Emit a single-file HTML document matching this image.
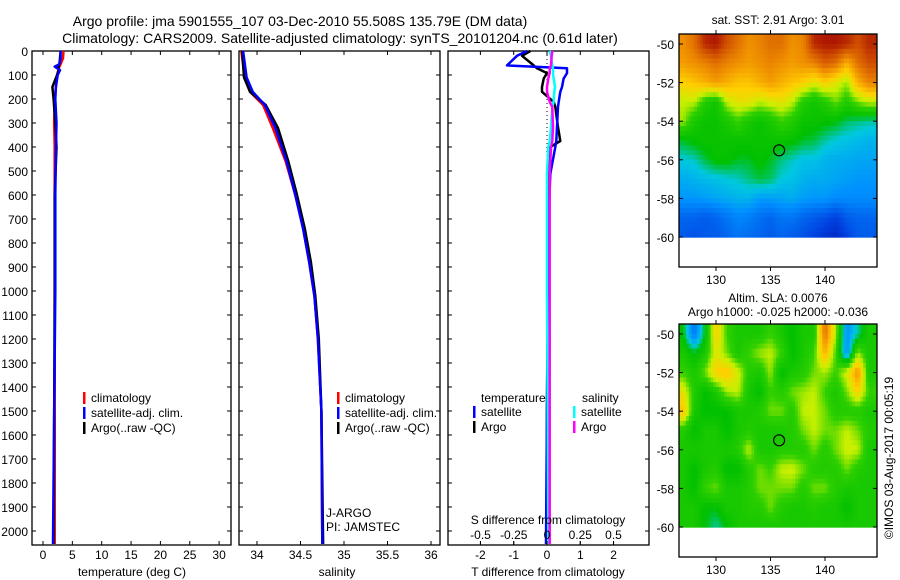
<!DOCTYPE html>
<html><head><meta charset="utf-8"><style>
html,body{margin:0;padding:0;background:#fff;}
svg{display:block;font-family:"Liberation Sans",sans-serif;}
</style></head><body>
<svg id="c" width="900" height="580" viewBox="0 0 900 580" xmlns="http://www.w3.org/2000/svg">
<text x="300" y="26" font-size="14" text-anchor="middle">Argo profile: jma 5901555_107 03-Dec-2010 55.508S 135.79E (DM data)</text>
<text x="340" y="43" font-size="14" text-anchor="middle">Climatology: CARS2009. Satellite-adjusted climatology: synTS_20101204.nc (0.61d later)</text>
<text x="778" y="24" font-size="12" text-anchor="middle">sat. SST: 2.91 Argo: 3.01</text>
<text x="778" y="302" font-size="12" text-anchor="middle">Altim. SLA: 0.0076</text>
<text x="778" y="316" font-size="12" text-anchor="middle">Argo h1000: -0.025 h2000: -0.036</text>
<text transform="translate(893,458) rotate(-90)" font-size="12" text-anchor="middle">©IMOS 03-Aug-2017 00:05:19</text>
<g id="g"></g>
</svg>
<script>
// ---- profile data (depth in m) ----
var tDepth   = [0, 30, 55, 65, 80, 100, 150, 200, 300, 400, 600, 1000, 1500, 2055];
var tClim    = [3.5, 3.4, 3.0, 2.8, 2.6, 2.4, 2.2, 2.0, 1.9, 2.0, 2.0, 2.0, 2.0, 2.0];
var tSat     = [3.0, 3.0, 2.8, 2.0, 2.9, 2.5, 2.2, 2.1, 2.3, 2.2, 2.1, 2.1, 1.9, 1.7];
var tArgo    = [3.0, 2.9, 2.8, 2.6, 2.7, 2.4, 1.6, 1.8, 2.1, 2.3, 2.0, 2.0, 1.9, 1.8];
var sDepth   = [0, 110, 170, 225, 320, 460, 600, 740, 880, 1020, 1200, 1500, 2055];
var sClim    = [33.82, 33.86, 33.92, 34.07, 34.18, 34.33, 34.44, 34.53, 34.60, 34.66, 34.70, 34.74, 34.75];
var sSat     = [33.84, 33.88, 33.95, 34.09, 34.21, 34.34, 34.44, 34.53, 34.60, 34.66, 34.70, 34.74, 34.75];
var sArgo    = [33.83, 33.85, 33.92, 34.10, 34.24, 34.36, 34.46, 34.55, 34.62, 34.67, 34.71, 34.74, 34.76];
var dDepth   = [0, 20, 60, 72, 92, 115, 150, 170, 212, 233, 317, 375, 400, 512, 692, 1000, 1500, 2055];
var dTSat    = [-0.6, -0.9, -1.2, 0.6, 0.6, 0.5, 0.45, 0.4, 0.35, 0.33, 0.3, 0.28, 0.25, 0.1, 0.05, 0.02, 0.0, -0.03];
var dTArgo   = [-0.5, -0.75, -0.4, -0.3, 0.0, -0.1, -0.15, -0.15, 0.2, 0.25, 0.33, 0.4, 0.1, 0.05, 0.03, 0.02, 0.0, 0.0];
var dSSat    = [0.02, 0.03, 0.04, 0.045, 0.045, 0.05, 0.06, 0.055, 0.05, 0.04, 0.03, 0.02, 0.01, 0.0, 0.0, 0.0, 0.005, 0.01];
var dSArgo   = [0.04, 0.035, 0.03, 0.02, 0.02, 0.01, 0.0, 0.0, 0.02, 0.04, 0.045, 0.04, 0.03, 0.02, 0.02, 0.02, 0.02, 0.02];
// ---- ticks ----
var depthTicks = [0,100,200,300,400,500,600,700,800,900,1000,1100,1200,1300,1400,1500,1600,1700,1800,1900,2000];
var tempTicks = [0,5,10,15,20,25,30];
var salTicks = ["34","34.5","35","35.5","36"];
var tdTicks = [-2,-1,0,1,2];
var sdTicks = ["-0.5","-0.25","0","0.25","0.5"];
var latTicks = [-50,-52,-54,-56,-58,-60];
var lonTicks = [130,135,140];
// ---- map data (rows lat -50..-60, cols lon 127..144), colour index 0..1 ----
var mapLons = [127,128,129,130,131,132,133,134,135,136,137,138,139,140,141,142,143,144];
var mapLats = [-50,-51,-52,-53,-54,-55,-56,-57,-58,-59,-60];
var sstGrid = [
[0.8,0.85,0.95,0.97,0.9,0.85,0.8,0.82,0.85,0.85,0.8,0.82,0.95,0.97,0.97,0.95,0.9,0.95],
[0.78,0.8,0.82,0.85,0.82,0.8,0.78,0.8,0.82,0.8,0.78,0.8,0.82,0.88,0.85,0.75,0.85,0.9],
[0.7,0.72,0.75,0.78,0.75,0.72,0.72,0.75,0.78,0.75,0.72,0.7,0.65,0.7,0.65,0.6,0.75,0.82],
[0.62,0.62,0.52,0.48,0.62,0.66,0.66,0.62,0.64,0.66,0.62,0.52,0.48,0.52,0.58,0.52,0.58,0.62],
[0.6,0.5,0.47,0.47,0.5,0.55,0.5,0.47,0.5,0.55,0.52,0.47,0.47,0.46,0.45,0.42,0.41,0.4],
[0.44,0.46,0.47,0.47,0.47,0.47,0.47,0.47,0.47,0.47,0.46,0.44,0.43,0.4,0.38,0.37,0.36,0.35],
[0.38,0.39,0.43,0.46,0.46,0.44,0.44,0.46,0.44,0.41,0.39,0.37,0.37,0.35,0.34,0.34,0.33,0.33],
[0.34,0.35,0.36,0.37,0.38,0.39,0.41,0.43,0.42,0.38,0.37,0.35,0.34,0.34,0.33,0.32,0.31,0.31],
[0.31,0.31,0.32,0.33,0.34,0.35,0.35,0.32,0.32,0.33,0.34,0.32,0.31,0.31,0.29,0.29,0.29,0.29],
[0.22,0.22,0.2,0.22,0.25,0.28,0.27,0.24,0.22,0.25,0.25,0.22,0.2,0.18,0.15,0.2,0.22,0.22],
[0.2,0.18,0.2,0.2,0.22,0.25,0.23,0.22,0.2,0.22,0.2,0.18,0.15,0.12,0.1,0.15,0.2,0.2]];
var slaGrid = [
[0.45,0.25,0.45,0.7,0.55,0.5,0.5,0.5,0.55,0.5,0.45,0.5,0.5,0.85,0.6,0.3,0.4,0.5],
[0.5,0.45,0.5,0.65,0.58,0.5,0.55,0.6,0.62,0.55,0.45,0.5,0.55,0.75,0.55,0.3,0.6,0.5],
[0.55,0.5,0.58,0.7,0.72,0.64,0.52,0.5,0.6,0.45,0.5,0.52,0.58,0.6,0.55,0.64,0.8,0.5],
[0.66,0.52,0.45,0.5,0.6,0.62,0.5,0.45,0.55,0.52,0.58,0.6,0.62,0.55,0.5,0.58,0.7,0.55],
[0.72,0.5,0.45,0.45,0.45,0.5,0.5,0.52,0.58,0.58,0.52,0.62,0.62,0.58,0.52,0.52,0.52,0.5],
[0.52,0.45,0.5,0.5,0.45,0.5,0.52,0.5,0.5,0.5,0.52,0.58,0.62,0.58,0.58,0.62,0.58,0.52],
[0.5,0.5,0.5,0.5,0.5,0.52,0.62,0.5,0.5,0.52,0.52,0.52,0.58,0.52,0.58,0.63,0.62,0.5],
[0.5,0.45,0.5,0.52,0.45,0.45,0.52,0.58,0.55,0.62,0.63,0.58,0.52,0.52,0.52,0.58,0.52,0.5],
[0.5,0.45,0.55,0.58,0.5,0.5,0.52,0.58,0.58,0.58,0.58,0.52,0.58,0.58,0.52,0.5,0.5,0.5],
[0.5,0.5,0.45,0.45,0.5,0.5,0.52,0.52,0.58,0.52,0.5,0.5,0.52,0.5,0.5,0.45,0.5,0.5],
[0.5,0.5,0.45,0.4,0.45,0.5,0.5,0.5,0.5,0.5,0.5,0.5,0.5,0.5,0.5,0.5,0.5,0.5]];
var floatLon = 135.79, floatLat = -55.508;

var NS="http://www.w3.org/2000/svg", G=document.getElementById('g');
function mk(tag, at, parent){var e=document.createElementNS(NS,tag);for(var k in at)e.setAttribute(k,at[k]);(parent||G).appendChild(e);return e;}
function txt(x,y,s,anchor,size,name){var t=mk('text',{x:x,y:y,'font-size':size||12,'text-anchor':anchor||'middle'});t.textContent=s;


return t;}
var TOP=51, BOT=545;
function yD(d){return Math.min(BOT-1,TOP+d*0.24);}
function xT(v){return 43+v*5.87;}
function xS(v){return 257+(v-34)*87;}
function xTd(v){return 547+v*33.3;}
function xSd(v){return 547+v*133;}

function frame(x0,x1,name){var r=mk('rect',{x:x0,y:TOP,width:x1-x0,height:BOT-TOP,fill:'none',stroke:'#000','stroke-width':1.3});

}
function line(xs,ds,fx,color,w,name){var p=[];for(var i=0;i<xs.length;i++){p.push(fx(xs[i]).toFixed(1)+','+yD(ds[i]).toFixed(1));}
var l=mk('polyline',{points:p.join(' '),fill:'none',stroke:color,'stroke-width':w||2.5,'stroke-linejoin':'round'});

}
function xticks(x0,x1,ticks,fx,y,labels){ticks.forEach(function(t,i){var x=fx(+t);mk('line',{x1:x,x2:x,y1:TOP,y2:TOP+4,stroke:'#000'});mk('line',{x1:x,x2:x,y1:BOT,y2:BOT-4,stroke:'#000'});if(labels!==false)txt(x,y,String(t),'middle',12,'x-tick-label');});}

// panel 1 temperature
frame(32,231,'temperature-panel');
depthTicks.forEach(function(d){var y=yD(d);mk('line',{x1:32,x2:36,y1:y,y2:y,stroke:'#000'});mk('line',{x1:231,x2:227,y1:y,y2:y,stroke:'#000'});mk('line',{x1:239,x2:243,y1:y,y2:y,stroke:'#000'});mk('line',{x1:440,x2:436,y1:y,y2:y,stroke:'#000'});mk('line',{x1:448,x2:452,y1:y,y2:y,stroke:'#000'});mk('line',{x1:649,x2:645,y1:y,y2:y,stroke:'#000'});txt(28,y+5,String(d),'end',12,'depth-tick-label');});
xticks(32,231,tempTicks,xT,559);
txt(132,576,'temperature (deg C)','middle',12,'x-axis-title-temperature');
line(tClim,tDepth,xT,'#ff0000',2.5,'temp-climatology-line');
line(tArgo,tDepth,xT,'#000000',2.5,'temp-argo-line');
line(tSat,tDepth,xT,'#0000ff',2.5,'temp-satellite-line');

// panel 2 salinity
frame(239,440,'salinity-panel');
xticks(239,440,salTicks,xS,559);
txt(337,576,'salinity','middle',12,'x-axis-title-salinity');
line(sClim,sDepth,xS,'#ff0000',2.5,'sal-climatology-line');
line(sArgo,sDepth,xS,'#000000',2.5,'sal-argo-line');
line(sSat,sDepth,xS,'#0000ff',2.5,'sal-satellite-line');
txt(326,517,'J-ARGO','start',12,'float-program-label');
txt(326,531,'PI: JAMSTEC','start',12,'float-pi-label');

// legends
function leg(x,y,color,label,name){var r=mk('rect',{x:x,y:y-10,width:2.5,height:12,fill:color});


txt(x+8,y,label,'start',12,name);}
[[83,'#ff0000','climatology'],[83,'#0000ff','satellite-adj. clim.'],[83,'#000','Argo(..raw -QC)']].forEach(function(e,i){leg(e[0],402+i*15,e[1],e[2],'temp-legend-entry');leg(337,402+i*15,e[1],e[2],'sal-legend-entry');});

// panel 3 differences
frame(448,649,'difference-panel');
xticks(448,649,tdTicks,xTd,559);
txt(548,576,'T difference from climatology','middle',12,'x-axis-title-t-diff');
mk('line',{x1:xTd(0),x2:xTd(0),y1:TOP,y2:BOT,stroke:'#000','stroke-dasharray':'1,3'});
line(dTArgo,dDepth,xTd,'#000000',2.5,'tdiff-argo-line');
line(dTSat,dDepth,xTd,'#0000ff',2.5,'tdiff-satellite-line');
line(dSSat,dDepth,xSd,'#00ffff',2.5,'sdiff-satellite-line');
line(dSArgo,dDepth,xSd,'#ff00ff',2.5,'sdiff-argo-line');
txt(548,524,'S difference from climatology','middle',12,'s-diff-axis-title');
sdTicks.forEach(function(t){var x=xSd(+t);txt(x,539,t,'middle',12,'s-diff-tick-label');mk('line',{x1:x,x2:x,y1:541,y2:545,stroke:'#000'});});
txt(481,402,'temperature','start',12,'diff-legend-temperature-header');
txt(582,402,'salinity','start',12,'diff-legend-salinity-header');
leg(473,416,'#0000ff','satellite','diff-legend-t-satellite');
leg(473,431,'#000','Argo','diff-legend-t-argo');
leg(573,416,'#00ffff','satellite','diff-legend-s-satellite');
leg(573,431,'#ff00ff','Argo','diff-legend-s-argo');

// colour map
var stops=[[0,[0,0,139]],[0.15,[0,64,224]],[0.3,[0,144,255]],[0.38,[0,200,224]],[0.45,[0,192,0]],[0.55,[48,208,0]],[0.62,[200,240,0]],[0.7,[255,208,0]],[0.8,[240,144,0]],[0.9,[208,80,0]],[1,[160,0,0]]];
function cmap(v){v=Math.max(0,Math.min(1,v));for(var i=1;i<stops.length;i++){if(v<=stops[i][0]){var a=stops[i-1],b=stops[i],f=(v-a[0])/(b[0]-a[0]);return 'rgb('+[0,1,2].map(function(k){return Math.round(a[1][k]+f*(b[1][k]-a[1][k]));}).join(',')+')';}}return 'rgb(160,0,0)';}
function sample(grid,fi,fj){fi=Math.max(0,Math.min(grid[0].length-1,fi));fj=Math.max(0,Math.min(grid.length-1,fj));
var i0=Math.floor(fi),j0=Math.floor(fj),i1=Math.min(i0+1,grid[0].length-1),j1=Math.min(j0+1,grid.length-1),a=fi-i0,b=fj-j0;
return (grid[j0][i0]*(1-a)+grid[j0][i1]*a)*(1-b)+(grid[j1][i0]*(1-a)+grid[j1][i1]*a)*b;}

function drawMap(top,grid,name){
  var x0=679,x1=877,bottom=top+233;
  function xL(lon){return 716+(lon-130)*10.9;}
  function yL(lat){return top+10+(-50-lat)*19.3;}
  var cid='clip'+top;
  var cp=mk('clipPath',{id:cid});mk('rect',{x:x0,y:top,width:x1-x0,height:yL(-60.03)-top},cp);
  var g=mk('g',{'clip-path':'url(#'+cid+')'});
  
  
  var st=0.25;
  for(var lat=-49.5;lat>-60.2;lat-=st){for(var lon=126.5;lon<145;lon+=st){
    var v=sample(grid,(lon+st/2)-mapLons[0],(-50-(lat-st/2)));
    var c=mk('rect',{x:xL(lon).toFixed(2),y:yL(lat).toFixed(2),width:(st*10.9+0.6).toFixed(2),height:(st*19.3+0.6).toFixed(2),fill:cmap(v)},g);
    
    
  }}
  var fr=mk('rect',{x:x0,y:top,width:x1-x0,height:bottom-top,fill:'none',stroke:'#000','stroke-width':1.3});
  
  
  latTicks.forEach(function(l){var y=yL(l);mk('line',{x1:x0,x2:x0+4,y1:y,y2:y,stroke:'#000'});mk('line',{x1:x1,x2:x1-4,y1:y,y2:y,stroke:'#000'});txt(674,y+5,String(l),'end',12,'lat-tick-label');});
  lonTicks.forEach(function(l){var x=xL(l);mk('line',{x1:x,x2:x,y1:top,y2:top-4,stroke:'#000'});mk('line',{x1:x,x2:x,y1:bottom,y2:bottom+4,stroke:'#000'});txt(x,bottom+17,String(l),'middle',12,'lon-tick-label');});
  var c=mk('circle',{cx:xL(floatLon),cy:yL(floatLat),r:5.5,fill:'none',stroke:'#000','stroke-width':1.2});
  
  
}
drawMap(34,sstGrid,'sst-map');
drawMap(324,slaGrid,'sla-map');
</script>
</body></html>
